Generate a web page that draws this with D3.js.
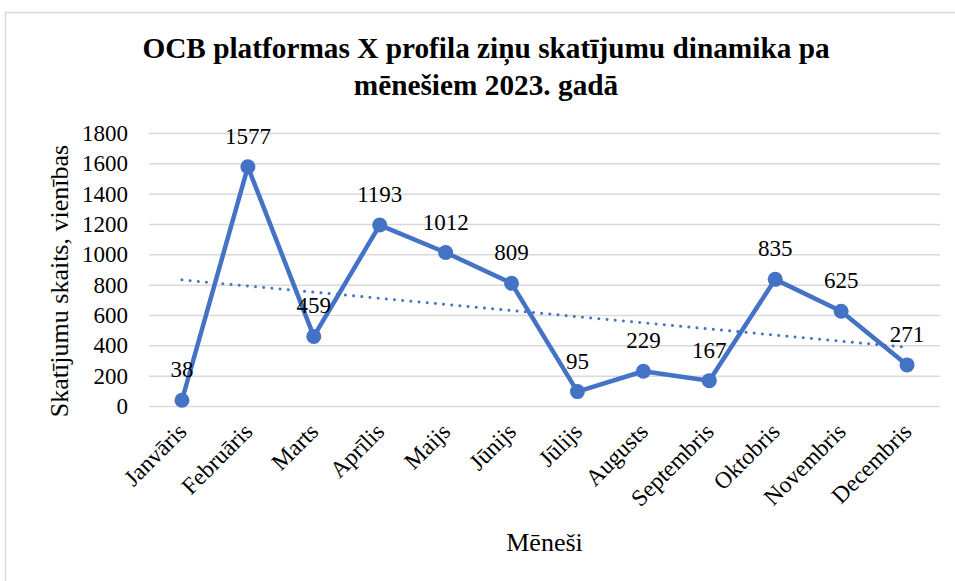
<!DOCTYPE html>
<html>
<head>
<meta charset="utf-8">
<script src="https://cdn.jsdelivr.net/npm/d3@7"></script>
<style>
  body { margin: 0; background: #fff; }
  svg { display: block; font-family: 'Liberation Serif', 'Times New Roman', serif; }
</style>
</head>
<body>
<svg id="chart"></svg>
<script>
const months = ['Janvāris', 'Februāris', 'Marts', 'Aprīlis', 'Maijs', 'Jūnijs',
  'Jūlijs', 'Augusts', 'Septembris', 'Oktobris', 'Novembris', 'Decembris'];
const views = [38, 1577, 459, 1193, 1012, 809, 95, 229, 167, 835, 625, 271];
const yTicks = [0, 200, 400, 600, 800, 1000, 1200, 1400, 1600, 1800];
const titleLines = ['OCB platformas X profila ziņu skatījumu dinamika pa', 'mēnešiem 2023. gadā'];

const width = 955, height = 581;
const blue = '#4472C4';
const grid = '#d9d9d9';
const serif = "'Liberation Serif', 'Times New Roman', serif";
const plot = { left: 149, right: 940, top: 133, bottom: 406 };

const svg = d3.select('#chart').attr('width', width).attr('height', height);

// chart frame
svg.append('rect')
  .attr('x', 5.5).attr('y', 12.5)
  .attr('width', 960).attr('height', 600)
  .attr('fill', '#fff').attr('stroke', grid).attr('stroke-width', 1.5);

const x = d3.scaleBand().domain(months).range([plot.left, plot.right]);
const y = d3.scaleLinear().domain([0, 1800]).range([plot.bottom, plot.top]);
const cx = (d) => x(d) + x.bandwidth() / 2;

// title
svg.append('g')
  .selectAll('text')
  .data(titleLines)
  .join('text')
  .attr('x', 486)
  .attr('y', (d, i) => 58 + i * 37)
  .attr('text-anchor', 'middle')
  .style('font-family', serif)
  .style('font-size', '29.3px')
  .style('font-weight', 'bold')
  .text((d) => d);

// gridlines + y labels
const yAxis = d3.axisLeft(y)
  .tickValues(yTicks)
  .tickFormat(d3.format('d'))
  .tickSize(-(plot.right - plot.left))
  .tickPadding(21);
svg.append('g')
  .attr('transform', `translate(${plot.left},0)`)
  .call(yAxis)
  .call((g) => g.select('.domain').remove())
  .call((g) => g.selectAll('line').attr('stroke', grid).attr('stroke-width', 1.5))
  .call((g) => g.selectAll('text')
    .attr('fill', '#000')
    .style('font-size', '23px')
    .style('font-family', serif));

// x labels
const xAxis = d3.axisBottom(x).tickSize(0);
svg.append('g')
  .attr('transform', `translate(0,${plot.bottom})`)
  .call(xAxis)
  .call((g) => g.select('.domain').remove())
  .call((g) => g.selectAll('text')
    .attr('fill', '#000')
    .style('font-size', '23.5px')
    .style('font-family', serif)
    .attr('text-anchor', 'end')
    .attr('dy', null)
    .attr('y', 0)
    .attr('transform', 'translate(6,27) rotate(-45)'));

// axis titles
svg.append('text')
  .attr('transform', 'translate(68,281) rotate(-90)')
  .attr('text-anchor', 'middle')
  .style('font-family', serif)
  .style('font-size', '26px')
  .text('Skatījumu skaits, vienības');

svg.append('text')
  .attr('x', (plot.left + plot.right) / 2)
  .attr('y', 551)
  .attr('text-anchor', 'middle')
  .style('font-family', serif)
  .style('font-size', '26px')
  .text('Mēneši');

// linear trendline
const xs = views.map((d, i) => i + 1);
const mx = d3.mean(xs), my = d3.mean(views);
const slope = d3.sum(xs, (v, i) => (v - mx) * (views[i] - my)) / d3.sum(xs, (v) => (v - mx) ** 2);
const trend = (i) => my + slope * (i + 1 - mx);

svg.append('line')
  .attr('x1', cx(months[0])).attr('y1', y(trend(0)))
  .attr('x2', cx(months[11])).attr('y2', y(trend(11)))
  .attr('stroke', blue)
  .attr('stroke-width', 3)
  .attr('stroke-linecap', 'round')
  .attr('stroke-dasharray', '0.01 8.2');

// series line
const line = d3.line().x((d, i) => cx(months[i])).y((d) => y(d));
svg.append('path')
  .datum(views)
  .attr('d', line)
  .attr('fill', 'none')
  .attr('stroke', blue)
  .attr('stroke-width', 4.5)
  .attr('stroke-linejoin', 'round');

svg.append('g')
  .selectAll('circle')
  .data(views)
  .join('circle')
  .attr('cx', (d, i) => cx(months[i]))
  .attr('cy', (d) => y(d))
  .attr('r', 7.5)
  .attr('fill', blue);

// data labels
svg.append('g')
  .selectAll('text')
  .data(views)
  .join('text')
  .attr('x', (d, i) => cx(months[i]))
  .attr('y', (d) => y(d) - 23)
  .attr('text-anchor', 'middle')
  .style('font-family', serif)
  .style('font-size', '23px')
  .text((d) => d);
</script>
</body>
</html>
